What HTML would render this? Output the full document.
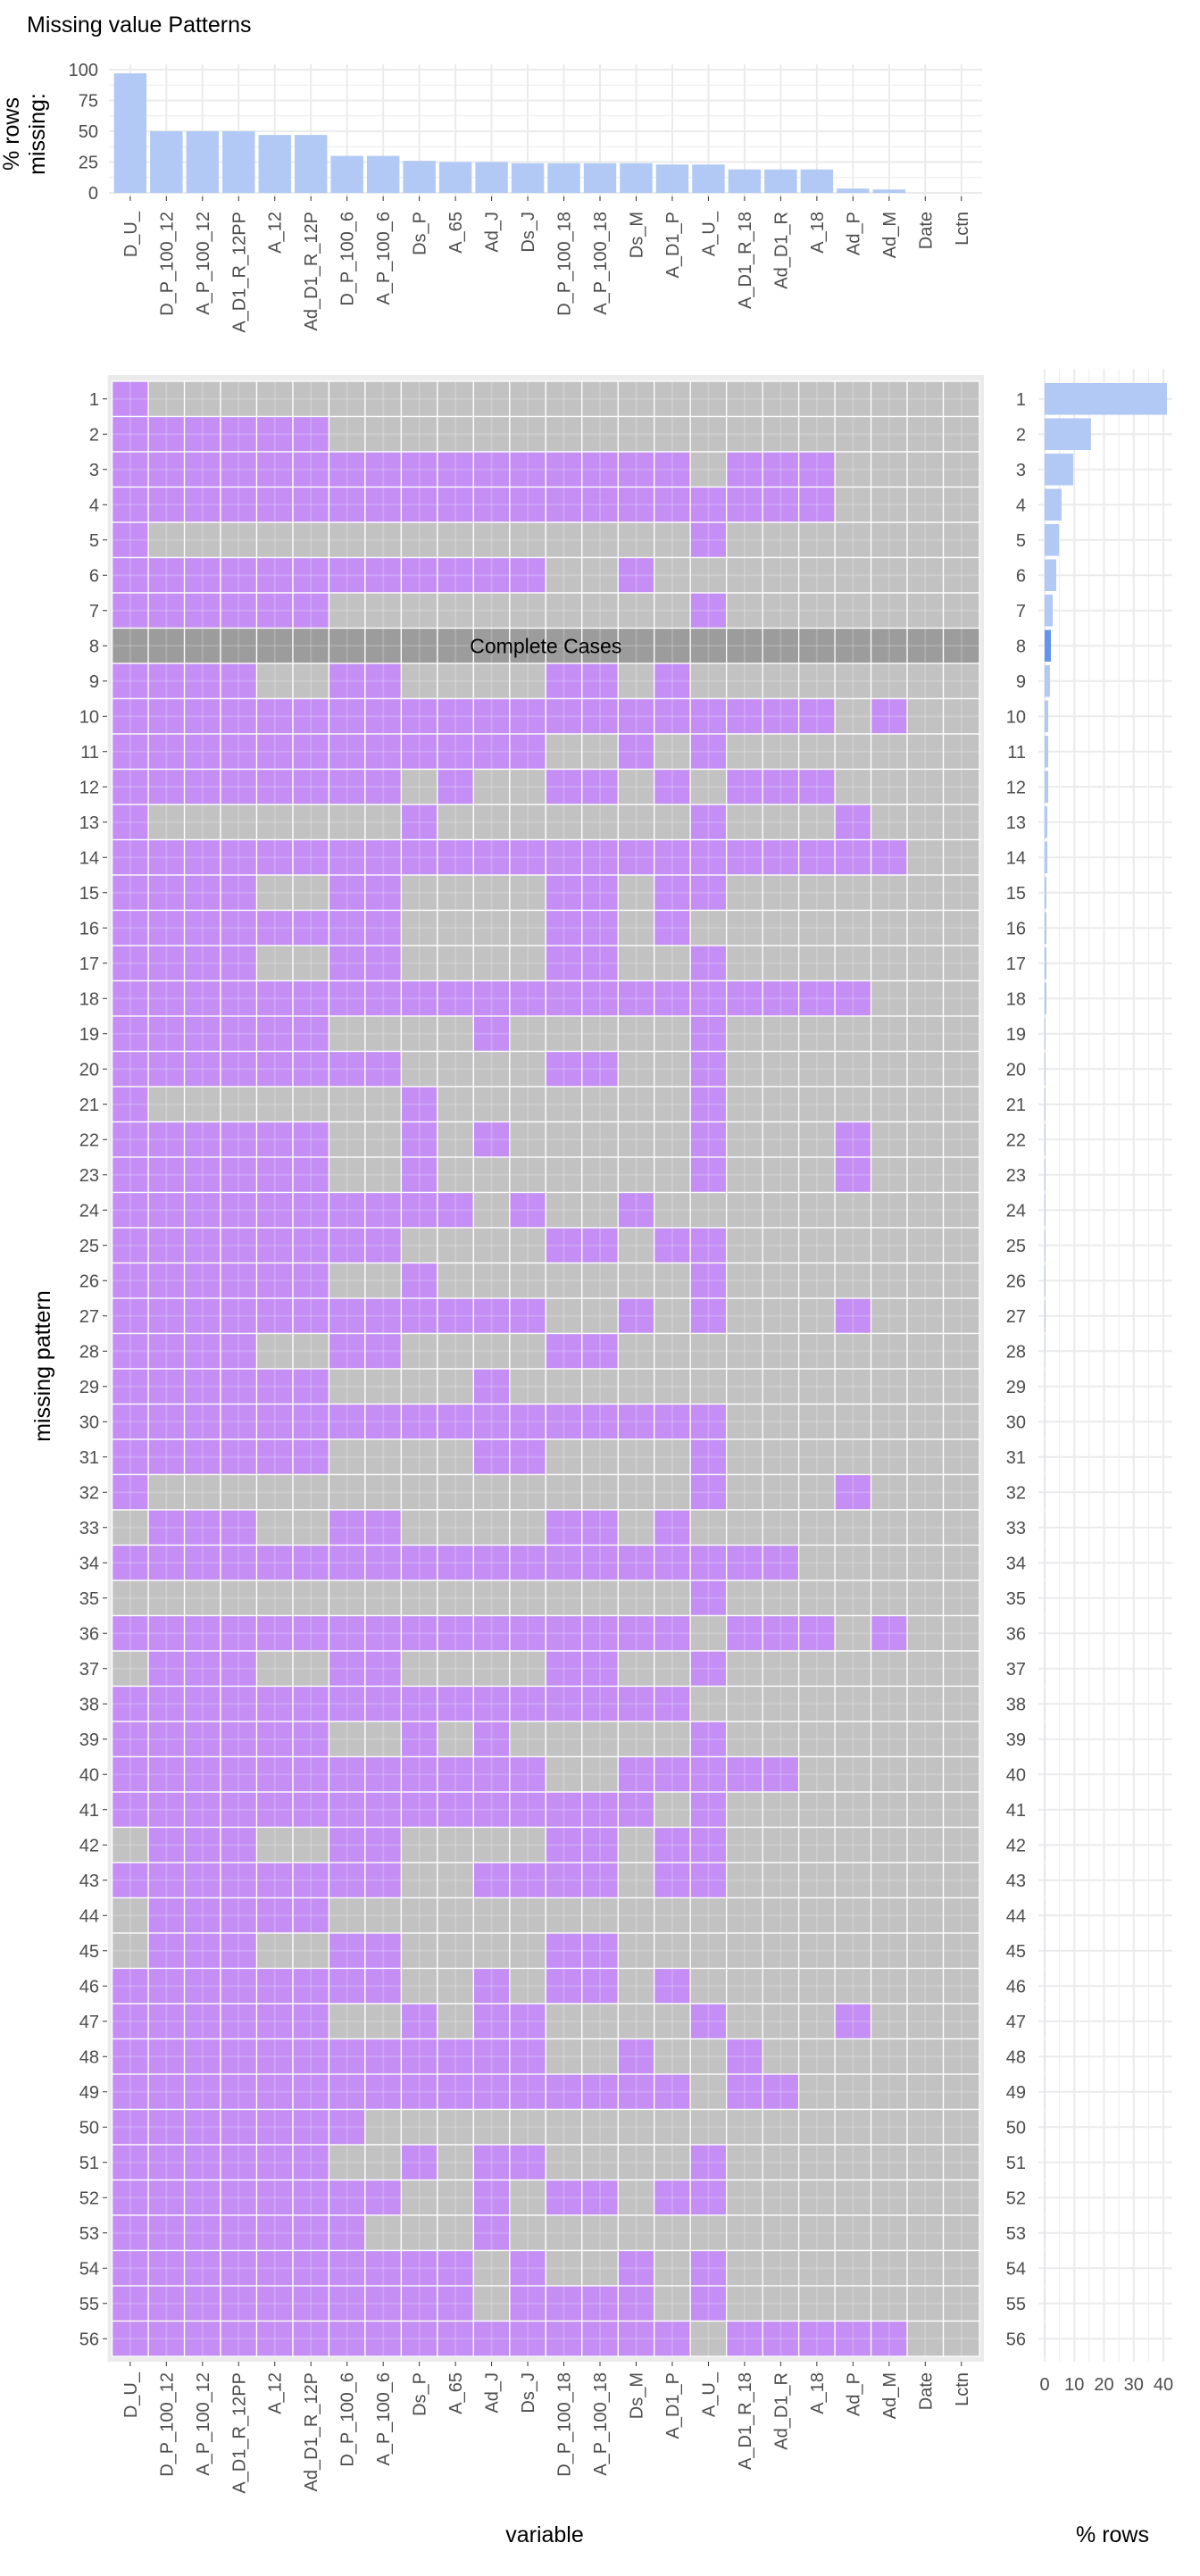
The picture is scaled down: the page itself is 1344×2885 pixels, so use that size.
<!DOCTYPE html>
<html><head><meta charset="utf-8"><style>
html,body{margin:0;padding:0;background:#fff;}
svg text{font-family:"Liberation Sans",sans-serif;}
</style></head><body>
<svg id="chart" width="1344" height="2880" viewBox="0 0 1344 2880" xmlns="http://www.w3.org/2000/svg">
<text x="30" y="36" font-size="25" fill="#000">Missing value Patterns</text>
<g id="topChart"></g>
<g id="heatChart"></g>
<g id="rightChart"></g>
</svg>
<script>
var variables = ["D_U_","D_P_100_12","A_P_100_12","A_D1_R_12PP","A_12","Ad_D1_R_12P","D_P_100_6","A_P_100_6","Ds_P","A_65","Ad_J","Ds_J","D_P_100_18","A_P_100_18","Ds_M","A_D1_P","A_U_","A_D1_R_18","Ad_D1_R","A_18","Ad_P","Ad_M","Date","Lctn"];
var pctMissing = [97,50,50,50,47,47,30,30,26,25,25,24,24,24,24,23,23,19,19,19,3.5,2.7,0,0];
var topTicks = [0,25,50,75,100];
var patterns = ["1","1-6","1-16,18-20","1-20","1,17","1-12,15","1-6,17","","1-4,7-8,13-14,16","1-20,22",
"1-12,15,17","1-8,10,13-14,16,18-20","1,9,17,21","1-22","1-4,7-8,13-14,16-17","1-8,13-14,16","1-4,7-8,13-14,17","1-21","1-6,11,17","1-8,13-14,17",
"1,9,17","1-6,9,11,17,21","1-6,9,17,21","1-10,12,15","1-8,13-14,16-17","1-6,9,17","1-12,15,17,21","1-4,7-8,13-14","1-6,11","1-17",
"1-6,11-12,17","1,17,21","2-4,7-8,13-14,16","1-19","17","1-16,18-20,22","2-4,7-8,13-14,17","1-16","1-6,9,11,17","1-12,15-19",
"1-15,17","2-4,7-8,13-14,16-17","1-8,11-14,16-17","2-6","2-4,7-8,13-14","1-8,11,13-14,16","1-6,9,11-12,17,21","1-12,15,18","1-16,18-19","1-7",
"1-6,9,11-12,17","1-8,11,13-14,16-17","1-7,11","1-10,12,15,17","1-10,12-15,17","1-16,18-22"];
var completeRow = 8;
var rowPct = [41.2,15.6,9.6,5.7,4.8,3.9,2.7,2.1,1.8,1.2,1.2,1.2,0.9,0.9,0.6,0.6,0.6,0.6,0.3,0.3,0.3,0.3,0.3,0.3,0.3,0.3,0.3,0.15,
0.05,0.05,0.05,0.05,0.05,0.05,0.05,0.05,0.05,0.05,0.05,0.05,0.05,0.05,0.05,0.05,0.05,0.05,0.05,0.05,0.05,0.05,0.05,0.05,0.05,0.05,0.05,0.05];
var rightTicks = [0,10,20,30,40];

var NS="http://www.w3.org/2000/svg";
function mk(tag, attrs, parent){var e=document.createElementNS(NS,tag);for(var k in attrs){e.setAttribute(k,String(attrs[k]));}parent.appendChild(e);return e;}
function parseRange(s){var set={};if(!s)return set;var parts=s.split(",");for(var j=0;j<parts.length;j++){var ab=parts[j].split("-");var a=Number(ab[0]);var b=ab.length>1?Number(ab[1]):a;for(var i=a;i<=b;i++){set[i]=true;}}return set;}
function rot(x,y){return "translate("+x+","+y+") rotate(-90)";}

var HL=125.6, HR=1097, colW=(HR-HL)/variables.length;
function xc(i){return HL + colW*(i+0.5);}

// ---------- top bar chart ----------
var topG=document.getElementById("topChart");
var TY0=216, TY100=78;
function ty(v){return TY0 + (TY100-TY0)*v/100;}
var TL=122, TR=1100;
for(var gv=0; gv<=100; gv+=12.5){
  var gl=mk("line",{x1:TL,x2:TR,y1:ty(gv),y2:ty(gv),stroke:"#ebebeb","stroke-width":(gv%25===0)?2:1},topG);
  
  
}
for(var i=0;i<variables.length;i++){
  var vl=mk("line",{x1:xc(i),x2:xc(i),y1:72,y2:TY0+6,stroke:"#ebebeb","stroke-width":2},topG);
  
  
}
for(var k2=0;k2<topTicks.length;k2++){
  var tt=mk("text",{x:110,y:ty(topTicks[k2])+7,"text-anchor":"end","font-size":20,fill:"#4d4d4d"},topG);
  tt.textContent=String(topTicks[k2]);
  
  
}
for(var i=0;i<pctMissing.length;i++){
  var bw=colW*0.9, v=pctMissing[i];
  var br=mk("rect",{x:xc(i)-bw/2,y:ty(v),width:bw,height:Math.max(TY0-ty(v),0),fill:"#b1c9f4"},topG);
  
  
  var tk=mk("line",{x1:xc(i),x2:xc(i),y1:TY0+4,y2:TY0+9,stroke:"#333","stroke-width":1},topG);
  
  
  var tl=mk("text",{x:0,y:0,"text-anchor":"end","font-size":20,fill:"#4d4d4d",transform:rot(xc(i)+7,237)},topG);
  tl.textContent=variables[i];
  
  
}
var yt=mk("text",{x:0,y:0,"text-anchor":"middle","font-size":25,fill:"#000",transform:rot(21,150)},topG);
yt.textContent="% rows";


var yt2=mk("text",{x:0,y:0,"text-anchor":"middle","font-size":25,fill:"#000",transform:rot(50,150)},topG);
yt2.textContent="missing:";



// ---------- heatmap ----------
var heatG=document.getElementById("heatChart");
var HT=427, rowH=39.5;
function yc(r){return HT + rowH*(r+0.5);}
var bg=mk("rect",{x:HL-5,y:HT-7,width:HR-HL+10,height:rowH*patterns.length+13,fill:"#ebebeb"},heatG);


for(var r=0;r<patterns.length;r++){
  var set=parseRange(patterns[r]);
  var complete=(r+1===completeRow);
  for(var i=0;i<variables.length;i++){
    var fill = complete ? "#9c9c9c" : (set[i+1] ? "#c48ef4" : "#c2c2c2");
    var c=mk("rect",{x:HL+colW*i,y:HT+rowH*r,width:colW,height:rowH,fill:fill,stroke:"#fff","stroke-width":1.3},heatG);
    
    
  }
  var lbl=mk("text",{x:111,y:yc(r)+7,"text-anchor":"end","font-size":20,fill:"#4d4d4d"},heatG);
  lbl.textContent=String(r+1);
  
  
  var ptk=mk("line",{x1:115,x2:120,y1:yc(r),y2:yc(r),stroke:"#333","stroke-width":1},heatG);
  
  
}
var HB=HT+rowH*patterns.length;
for(var i=0;i<variables.length;i++){
  var hv=mk("line",{x1:xc(i),x2:xc(i),y1:HT,y2:HB,stroke:"#fff","stroke-opacity":0.18,"stroke-width":2},heatG);
  
  
}
for(var r=0;r<patterns.length;r++){
  var hh=mk("line",{x1:HL,x2:HR,y1:yc(r),y2:yc(r),stroke:"#fff","stroke-opacity":0.18,"stroke-width":2},heatG);
  
  
}
var cc=mk("text",{x:(HL+HR)/2,y:yc(completeRow-1)+8,"text-anchor":"middle","font-size":23,fill:"#000"},heatG);
cc.textContent="Complete Cases";


for(var i=0;i<variables.length;i++){
  var xtk=mk("line",{x1:xc(i),x2:xc(i),y1:HB+6,y2:HB+11,stroke:"#333","stroke-width":1},heatG);
  
  
  var xl=mk("text",{x:0,y:0,"text-anchor":"end","font-size":20,fill:"#4d4d4d",transform:rot(xc(i)+7,HB+18)},heatG);
  xl.textContent=variables[i];
  
  
}
var xt=mk("text",{x:610,y:2847,"text-anchor":"middle","font-size":25,fill:"#000"},heatG);
xt.textContent="variable";


var ytl=mk("text",{x:0,y:0,"text-anchor":"middle","font-size":25,fill:"#000",transform:rot(56,1530)},heatG);
ytl.textContent="missing pattern";



// ---------- right bar chart ----------
var rightG=document.getElementById("rightChart");
var RX0=1170, RU=3.325, RRight=1313;
function rx(v){return RX0 + RU*v;}
for(var gv=0; gv<=40; gv+=5){
  var rv=mk("line",{x1:rx(gv),x2:rx(gv),y1:HT-14,y2:HB+6,stroke:"#ebebeb","stroke-width":(gv%10===0)?2:1},rightG);
  
  
}
for(var r=0;r<rowPct.length;r++){
  var rh=mk("line",{x1:1163,x2:RRight,y1:yc(r),y2:yc(r),stroke:"#ebebeb","stroke-width":2},rightG);
  
  
}
for(var r=0;r<rowPct.length;r++){
  var rb=mk("rect",{x:RX0,y:yc(r)-rowH*0.45,width:Math.max(RU*rowPct[r],0.3),height:rowH*0.9,fill:(r+1===completeRow)?"#6495ed":"#b1c9f4"},rightG);
  
  
  var rl=mk("text",{x:1149,y:yc(r)+7,"text-anchor":"end","font-size":20,fill:"#4d4d4d"},rightG);
  rl.textContent=String(r+1);
  
  
}
for(var k3=0;k3<rightTicks.length;k3++){
  var rtl=mk("text",{x:rx(rightTicks[k3]),y:2677,"text-anchor":"middle","font-size":20,fill:"#4d4d4d"},rightG);
  rtl.textContent=String(rightTicks[k3]);
  
  
}
var rt=mk("text",{x:1246,y:2847,"text-anchor":"middle","font-size":25,fill:"#000"},rightG);
rt.textContent="% rows";


</script>
</body></html>
